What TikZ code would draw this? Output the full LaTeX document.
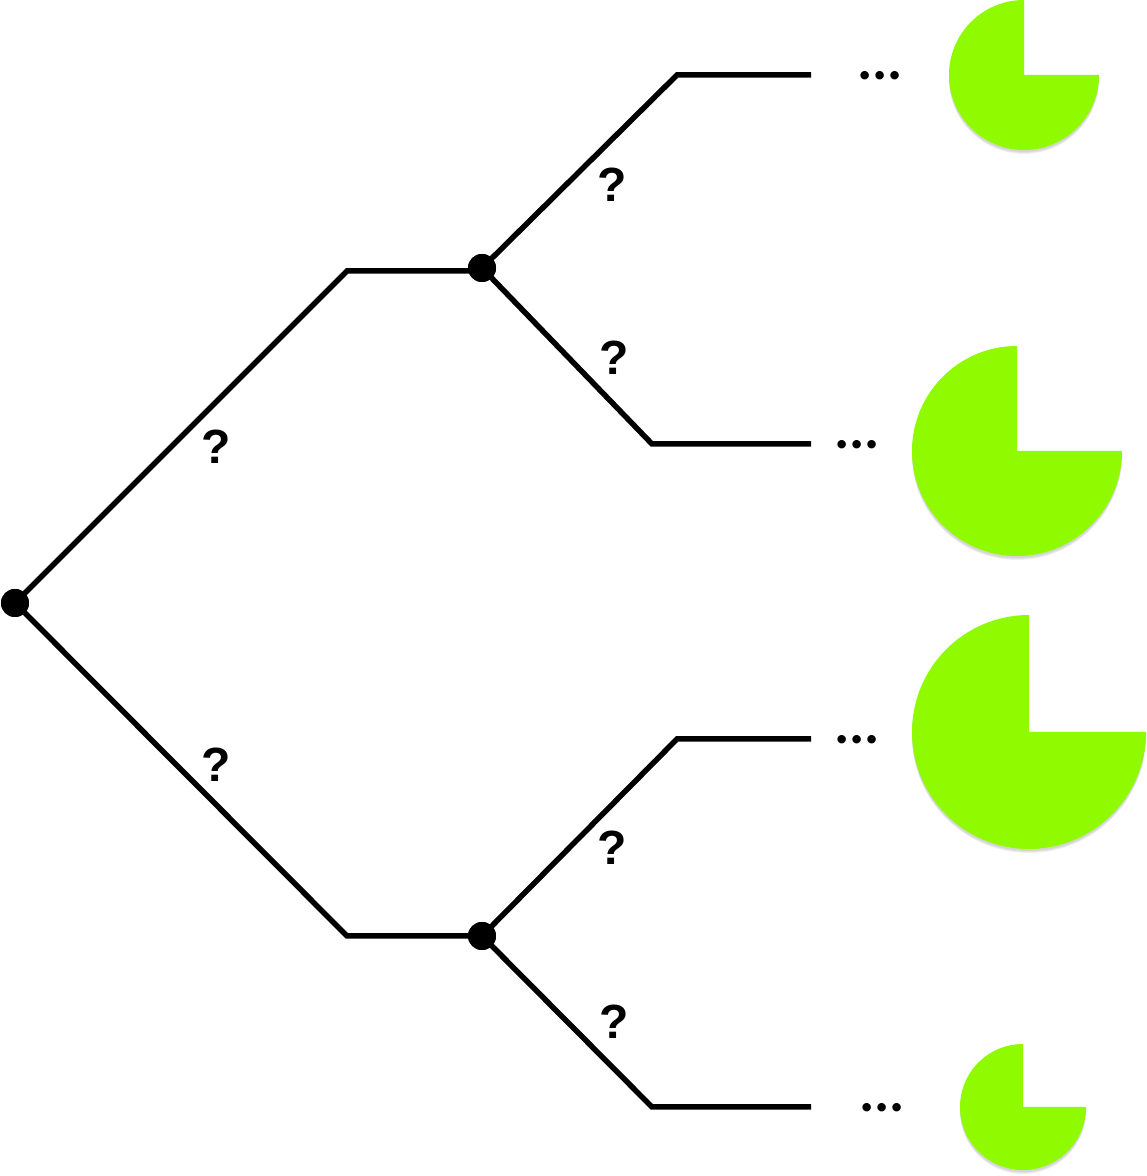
\documentclass[tikz,border=0pt]{standalone}
\usepackage{fontspec}
\setmainfont{Liberation Sans}
\newfontfamily\dotsfont{Lato}
\definecolor{pacgreen}{RGB}{143,250,0}
\begin{document}
\begin{tikzpicture}[x=1pt,y=1pt,
  branch/.style={line width=5.5pt,line join=miter},
  knot/.style={circle,fill=black,inner sep=0pt,minimum size=28pt},
  qlabel/.style={font=\fontsize{48}{48}\selectfont\bfseries,inner sep=0pt},
  dotslabel/.style={font=\dotsfont\fontsize{56}{56}\selectfont\bfseries,inner sep=0pt},
  pac/.style={fill=pacgreen},
  pacshadow/.style={fill=black,opacity=0.06}]
\useasboundingbox (0,0) rectangle (1147,1176);
% nodes
\node[knot] (root) at (15,573) {};
\node[knot] (n1) at (482,908) {};
\node[knot] (n2) at (482,240) {};
\coordinate (a1) at (347,905);
\coordinate (a2) at (347,240);
\coordinate (b1) at (677,1101); \coordinate (e1) at (811,1101);
\coordinate (b2) at (652,732);  \coordinate (e2) at (811,732);
\coordinate (b3) at (677,437);  \coordinate (e3) at (811,437);
\coordinate (b4) at (652,69);   \coordinate (e4) at (811,69);
% branches
\draw[branch] (root.center) -- (a1) -- (482,905);
\draw[branch] (root.center) -- (a2) -- (n2.center);
\draw[branch] (n1.center) -- (b1) -- (e1);
\draw[branch] (n1.center) -- (b2) -- (e2);
\draw[branch] (n2.center) -- (b3) -- (e3);
\draw[branch] (n2.center) -- (b4) -- (e4);
\node[knot] at (root) {};
\node[knot] at (n1) {};
\node[knot] at (n2) {};
% labels
\node[qlabel] (q1) at (216,729) {?};
\node[qlabel] (q2) at (216,411) {?};
\node[qlabel] (q3) at (612,991) {?};
\node[qlabel] (q4) at (614,818) {?};
\node[qlabel] (q5) at (612,328) {?};
\node[qlabel] (q6) at (614,154) {?};
\node[dotslabel,anchor=base] (d1) at (880,1096) {…};
\node[dotslabel,anchor=base] (d2) at (857,727) {…};
\node[dotslabel,anchor=base] (d3) at (857,432) {…};
\node[dotslabel,anchor=base] (d4) at (882,64) {…};
% pac shapes
\foreach \cx/\cy/\r in {1024/1101/75, 1017/725/105, 1029/444/117, 1023/69/63}{
  \foreach \s in {1,2,3}{
    \fill[pacshadow] (\cx,\cy-1-\s) -- ++(0,\r) arc[start angle=90,end angle=360,radius=\r] -- cycle;
  }
  \fill[pac] (\cx,\cy) -- ++(0,\r) arc[start angle=90,end angle=360,radius=\r] -- cycle;
}
\end{tikzpicture}
\end{document}
